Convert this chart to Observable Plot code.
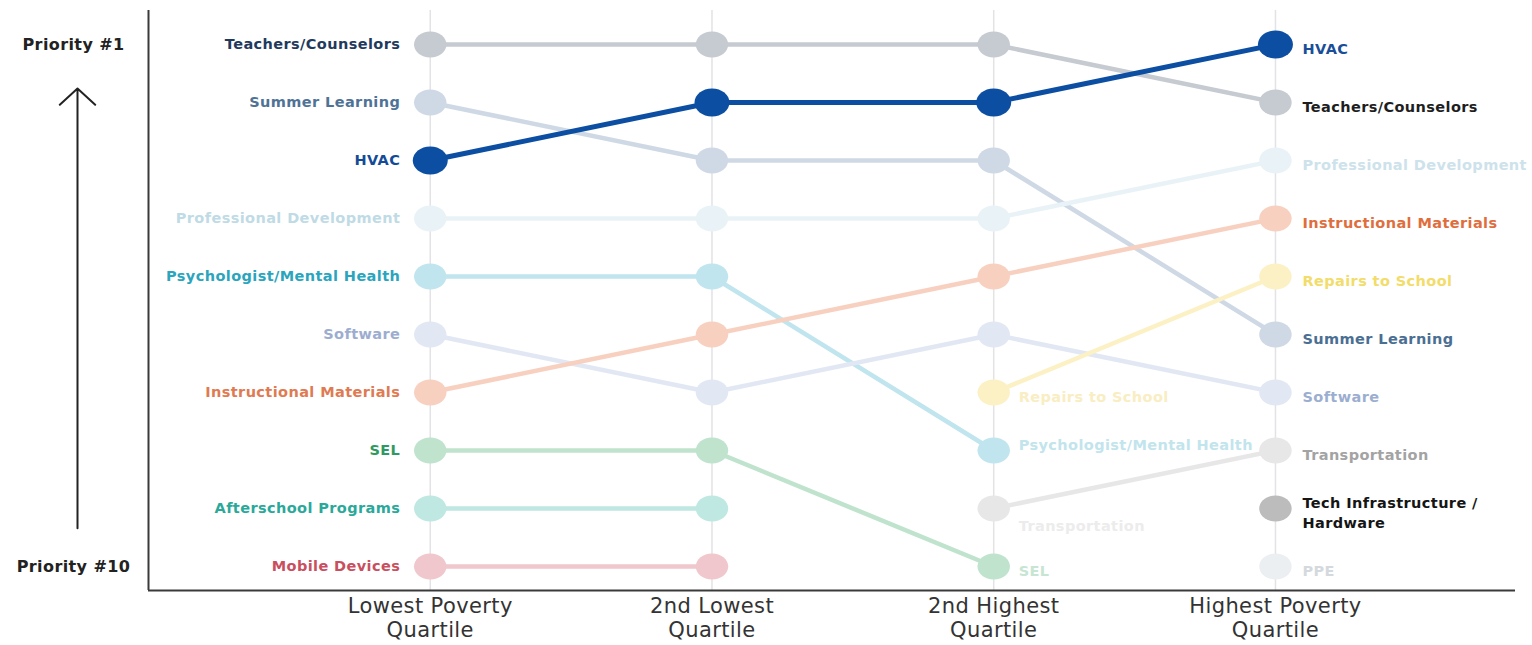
<!DOCTYPE html>
<html>
<head>
<meta charset="utf-8">
<script src="https://cdn.jsdelivr.net/npm/d3@7"></script>
<script src="https://cdn.jsdelivr.net/npm/@observablehq/plot@0.6"></script>
<style>
  html, body { margin: 0; padding: 0; background: #fff; }
  svg { display: block; }
</style>
</head>
<body>
<div id="chart"></div>
<script>
// ---- data ----
const quartileLabels = ["Lowest Poverty\nQuartile", "2nd Lowest\nQuartile", "2nd Highest\nQuartile", "Highest Poverty\nQuartile"];
const lowestPoverty = ["Teachers/Counselors", "Summer Learning", "HVAC", "Professional Development", "Psychologist/Mental Health", "Software", "Instructional Materials", "SEL", "Afterschool Programs", "Mobile Devices"];
const secondLowest = ["Teachers/Counselors", "HVAC", "Summer Learning", "Professional Development", "Psychologist/Mental Health", "Instructional Materials", "Software", "SEL", "Afterschool Programs", "Mobile Devices"];
const secondHighest = ["Teachers/Counselors", "HVAC", "Summer Learning", "Professional Development", "Instructional Materials", "Software", "Repairs to School", "Psychologist/Mental Health", "Transportation", "SEL"];
const highestPoverty = ["HVAC", "Teachers/Counselors", "Professional Development", "Instructional Materials", "Repairs to School", "Summer Learning", "Software", "Transportation", "Tech Infrastructure / Hardware", "PPE"];
const axisLabels = ["Priority #1", "Priority #10"];

// ---- styles ----
const lineColor = {
  "Teachers/Counselors": "#c6cad1",
  "Summer Learning": "#cfd9e5",
  "HVAC": "#0b4ea2",
  "Professional Development": "#e9f3f7",
  "Psychologist/Mental Health": "#c0e5ee",
  "Software": "#e2e7f4",
  "Instructional Materials": "#f8d0c0",
  "SEL": "#bfe3cd",
  "Afterschool Programs": "#bee8e1",
  "Mobile Devices": "#f0c7cc",
  "Repairs to School": "#fcf1c4",
  "Transportation": "#e7e7e7",
  "Tech Infrastructure / Hardware": "#bcbcbc",
  "PPE": "#eceff2"
};
const leftLabelColor = {
  "Teachers/Counselors": "#1f3a5c",
  "Summer Learning": "#4f7396",
  "HVAC": "#134b97",
  "Professional Development": "#bfdbe5",
  "Psychologist/Mental Health": "#2ba5bd",
  "Software": "#9dadcf",
  "Instructional Materials": "#e07a52",
  "SEL": "#2e9a60",
  "Afterschool Programs": "#2aa89a",
  "Mobile Devices": "#c94f5e"
};
const midLabelColor = {
  "Repairs to School": "#f9edc2",
  "Psychologist/Mental Health": "#c2e4ec",
  "Transportation": "#ececec",
  "SEL": "#c6e5d2"
};
const midLabelDy = {
  "Repairs to School": 5,
  "Psychologist/Mental Health": -5,
  "Transportation": 18,
  "SEL": 5
};
const rightLabelColor = {
  "HVAC": "#1b4e98",
  "Teachers/Counselors": "#1e1e1e",
  "Professional Development": "#cde2ea",
  "Instructional Materials": "#df6e3e",
  "Repairs to School": "#f2dc6a",
  "Summer Learning": "#4b6f93",
  "Software": "#9caed0",
  "Transportation": "#a3a3a3",
  "Tech Infrastructure / Hardware": "#151515",
  "PPE": "#d4d9de"
};

const rankings = [lowestPoverty, secondLowest, secondHighest, highestPoverty];
const rows = rankings.flatMap((list, q) => list.map((item, i) => ({item, q, rank: i + 1})));
const inQ = (item, q) => rankings[q] && rankings[q].includes(item);
const midLabels = rows.filter(d => d.q === 2 && (!inQ(d.item, 3) || !inQ(d.item, 1)));
const display = s => s.replace(" / ", " /\n");

const xMin = -1.0, xMax = 3.852;
const yMin = 0.4138, yMax = 10.4138;

function ellipse(k) {
  return {
    draw(ctx, size) {
      const r = Math.sqrt(size / Math.PI), rx = r * k, ry = r, c = 0.5523;
      ctx.moveTo(rx, 0);
      ctx.bezierCurveTo(rx, c * ry, c * rx, ry, 0, ry);
      ctx.bezierCurveTo(-c * rx, ry, -rx, c * ry, -rx, 0);
      ctx.bezierCurveTo(-rx, -c * ry, -c * rx, -ry, 0, -ry);
      ctx.bezierCurveTo(c * rx, -ry, rx, -c * ry, rx, 0);
      ctx.closePath();
    }
  };
}

const font = "DejaVu Sans, sans-serif";
const notHvac = rows.filter(d => d.item !== "HVAC");
const hvac = rows.filter(d => d.item === "HVAC");

const chart = Plot.plot({
  width: 1532,
  height: 645,
  marginLeft: 148,
  marginRight: 17,
  marginTop: 10,
  marginBottom: 55,
  style: {fontFamily: font, background: "#fff", letterSpacing: "0.4px"},
  x: {domain: [xMin, xMax], axis: null},
  y: {domain: [yMin, yMax], reverse: true, axis: null},
  color: {type: "identity"},
  marks: [
    Plot.ruleX([0, 1, 2, 3], {stroke: "#e3e3e6", strokeWidth: 1.5}),
    Plot.ruleX([xMin], {stroke: "#3a3a3a", strokeWidth: 2}),
    Plot.ruleY([yMax], {stroke: "#3a3a3a", strokeWidth: 2}),
    Plot.line(notHvac, {x: "q", y: "rank", z: "item", stroke: d => lineColor[d.item], strokeWidth: 4.5}),
    Plot.dot(notHvac, {x: "q", y: "rank", r: 13, symbol: ellipse(1.25), fill: d => lineColor[d.item]}),
    Plot.line(hvac, {x: "q", y: "rank", stroke: lineColor["HVAC"], strokeWidth: 5}),
    Plot.dot(hvac, {x: "q", y: "rank", r: 14, symbol: ellipse(1.25), fill: lineColor["HVAC"]}),
    // left labels
    Plot.text(rows.filter(d => d.q === 0), {x: "q", y: "rank", text: d => display(d.item), textAnchor: "end", dx: -30,
      fill: d => leftLabelColor[d.item], fontSize: 14.5, fontWeight: "bold"}),
    // middle labels (each with its own vertical offset)
    ...midLabels.map(d => Plot.text([d], {x: "q", y: "rank", text: "item", textAnchor: "start", dx: 25, dy: midLabelDy[d.item],
      fill: midLabelColor[d.item], fontSize: 14.5, fontWeight: "bold"})),
    // right labels
    Plot.text(rows.filter(d => d.q === 3), {x: "q", y: "rank", text: d => display(d.item), textAnchor: "start", dx: 27, dy: 3,
      fill: d => rightLabelColor[d.item], fontSize: 14.5, fontWeight: "bold", lineHeight: 1.35}),
    // quartile labels
    Plot.text(quartileLabels, {x: (d, i) => i, y: () => yMax, text: d => d, dy: 27, lineAnchor: "middle", lineHeight: 1.15,
      fontSize: 21, fill: "#333"}),
    // priority labels
    Plot.text(axisLabels, {x: () => xMin, y: (d, i) => i === 0 ? 1 : 10, text: d => d, dx: -75, textAnchor: "middle",
      fontSize: 16, fontWeight: "bold", fill: "#222"}),
    Plot.arrow([0], {x1: () => xMin, x2: () => xMin, y1: () => 9.34, y2: () => 1.76, dx: -71, stroke: "#222", strokeWidth: 2,
      headLength: 18, headAngle: 95})
  ]
});

document.getElementById("chart").appendChild(chart);
</script>
</body>
</html>
